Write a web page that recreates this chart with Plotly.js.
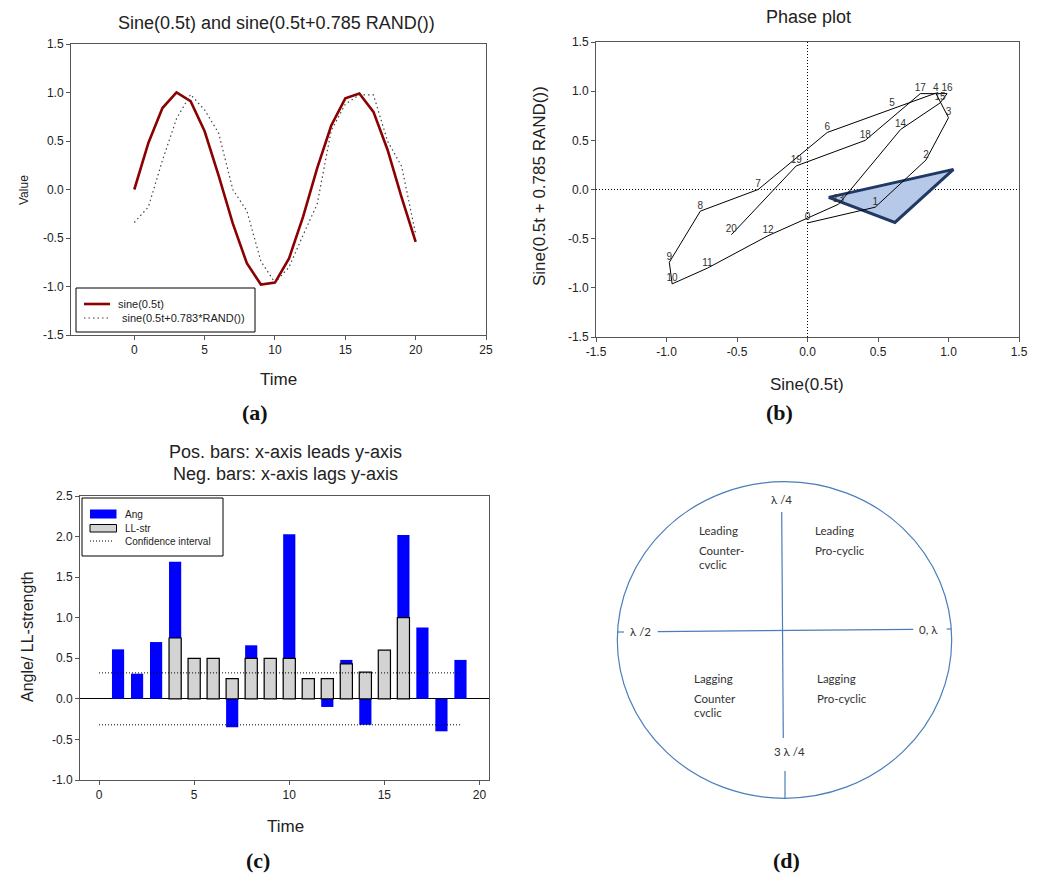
<!DOCTYPE html>
<html>
<head>
<meta charset="utf-8">
<script src="https://cdn.plot.ly/plotly-3.0.1.min.js"></script>
<style>html,body{margin:0;padding:0;background:#fff}#chart{width:1041px;height:879px}</style>
</head>
<body>
<div id="chart"></div>
<script>
// ---------------- DATA ----------------
const timeSteps = [0,1,2,3,4,5,6,7,8,9,10,11,12,13,14,15,16,17,18,19,20];
const sineValues = [0.00,0.48,0.84,1.00,0.91,0.60,0.14,-0.35,-0.76,-0.98,-0.96,-0.71,-0.28,0.22,0.66,0.94,0.99,0.80,0.41,-0.08,-0.54];
const randSineValues = [-0.34,-0.18,0.30,0.73,0.98,0.82,0.58,0.00,-0.22,-0.74,-0.96,-0.80,-0.47,-0.15,0.61,0.88,0.975,0.975,0.50,0.24,-0.46];
const pointLabels = ["0","1","2","3","4","5","6","7","8","9","10","11","12","13","14","15","16","17","18","19","20"];

const triangleX = [0.15, 1.035, 0.62, 0.15];
const triangleY = [-0.08, 0.205, -0.335, -0.08];

const angTime = [1,2,3,4,5,6,7,8,9,10,11,12,13,14,15,16,17,18,19];
const angValues = [0.61,0.31,0.70,1.69,0.50,0.50,-0.35,0.66,0.50,2.03,0.25,-0.10,0.48,-0.32,0.40,2.02,0.88,-0.40,0.48];
const llTime = [4,5,6,7,8,9,10,11,12,13,14,15,16];
const llValues = [0.75,0.50,0.50,0.25,0.50,0.50,0.50,0.25,0.25,0.43,0.33,0.60,1.00];
const ciX = [0,19,null,0,19];
const ciY = [0.32,0.32,null,-0.32,-0.32];

const seriesNamesA = ["sine(0.5t)", " sine(0.5t+0.783*RAND())"];
const seriesNamesC = ["Ang", "LL-str", "Confidence interval"];

const tickA_x = [0,5,10,15,20,25];
const tickA_xText = ["0","5","10","15","20","25"];
const tickPM15 = [-1.5,-1.0,-0.5,0,0.5,1.0,1.5];
const tickPM15Text = ["-1.5","-1.0","-0.5","0.0","0.5","1.0","1.5"];
const tickC_x = [0,5,10,15,20];
const tickC_xText = ["0","5","10","15","20"];
const tickC_y = [-1.0,-0.5,0,0.5,1.0,1.5,2.0,2.5];
const tickC_yText = ["-1.0","-0.5","0.0","0.5","1.0","1.5","2.0","2.5"];

// ---------------- LAYOUT HELPERS ----------------
const W = 1041, H = 879;
const fx = p => p / W;
const fy = p => 1 - p / H;
const FONT = 'Liberation Sans, Arial, sans-serif';

const RED = '#8b0000', BLUE = '#0000ff', GRAY = '#d3d3d3';

function axisStyle(extra) {
  return Object.assign({
    showline: true, linecolor: '#555', linewidth: 1, mirror: true,
    ticks: 'outside', ticklen: 4, tickcolor: '#555', tickwidth: 1,
    showgrid: false, zeroline: false, fixedrange: true,
    tickfont: {family: FONT, size: 12, color: '#222'}
  }, extra);
}

function ann(text, x, y, size, extra) {
  return Object.assign({
    text: text, xref: 'paper', yref: 'paper', x: fx(x), y: fy(y),
    xanchor: 'center', yanchor: 'middle', showarrow: false,
    font: {family: FONT, size: size, color: '#222'}
  }, extra || {});
}
function pline(x0, y0, x1, y1, line) {
  return {type: 'line', xref: 'paper', yref: 'paper', x0: fx(x0), y0: fy(y0), x1: fx(x1), y1: fy(y1), line: line};
}
function prect(x0, y0, x1, y1, fill, line) {
  return {type: 'rect', xref: 'paper', yref: 'paper', x0: fx(x0), y0: fy(y1), x1: fx(x1), y1: fy(y0),
          fillcolor: fill, line: line};
}

const DCOL = '#4a7ebb';
const DFONT = 'Lato, Open Sans, sans-serif';
function dann(text, x, y, anchor) {
  return ann(text, x, y, 11.5, {xanchor: anchor || 'left', font: {family: DFONT, size: 11.5, color: '#333'}});
}
function dline(x0, y0, x1, y1) {
  return pline(x0, y0, x1, y1, {color: DCOL, width: 1.2});
}

// ---------------- TRACES ----------------
const traces = [
  {x: timeSteps, y: sineValues, type: 'scatter', mode: 'lines', name: seriesNamesA[0],
   line: {color: RED, width: 2.6}, xaxis: 'x', yaxis: 'y'},
  {x: timeSteps, y: randSineValues, type: 'scatter', mode: 'lines', name: seriesNamesA[1],
   line: {color: '#444', width: 1.2, dash: '1.5px,3px'}, xaxis: 'x', yaxis: 'y'},

  {x: triangleX, y: triangleY, type: 'scatter', mode: 'lines', fill: 'toself',
   fillcolor: '#b7c9e8', line: {color: '#1f3864', width: 3}, xaxis: 'x2', yaxis: 'y2', hoverinfo: 'skip'},
  {x: sineValues, y: randSineValues, text: pointLabels, type: 'scatter', mode: 'lines+text',
   textposition: 'top center', textfont: {family: FONT, size: 10, color: '#333'},
   line: {color: '#000', width: 1}, xaxis: 'x2', yaxis: 'y2', cliponaxis: false},

  {x: angTime, y: angValues, type: 'bar', name: seriesNamesC[0], width: 0.64,
   marker: {color: BLUE, line: {width: 0}}, xaxis: 'x3', yaxis: 'y3'},
  {x: llTime, y: llValues, type: 'bar', name: seriesNamesC[1], width: 0.64,
   marker: {color: GRAY, line: {color: '#000', width: 1.2}}, xaxis: 'x3', yaxis: 'y3'},
  {x: ciX, y: ciY, type: 'scatter', mode: 'lines', name: seriesNamesC[2],
   line: {color: '#000', width: 1, dash: '1px,2px'}, xaxis: 'x3', yaxis: 'y3', connectgaps: false}
];

// ---------------- LAYOUT ----------------
const serif = {family: 'Liberation Serif, serif', size: 22, color: '#111'};
const layout = {
  width: W, height: H,
  margin: {l: 0, r: 0, t: 0, b: 0},
  paper_bgcolor: '#fff', plot_bgcolor: '#fff',
  font: {family: FONT, color: '#222'},
  showlegend: false,
  barmode: 'overlay',
  xaxis: axisStyle({domain: [fx(71), fx(486)], range: [-4.5, 25], anchor: 'y', tickvals: tickA_x, ticktext: tickA_xText}),
  yaxis: axisStyle({domain: [fy(335), fy(44)], range: [-1.5, 1.5], anchor: 'x', tickvals: tickPM15, ticktext: tickPM15Text}),
  xaxis2: axisStyle({domain: [fx(596), fx(1019)], range: [-1.5, 1.5], anchor: 'y2', tickvals: tickPM15, ticktext: tickPM15Text}),
  yaxis2: axisStyle({domain: [fy(337), fy(42)], range: [-1.5, 1.5], anchor: 'x2', tickvals: tickPM15, ticktext: tickPM15Text}),
  xaxis3: axisStyle({domain: [fx(80), fx(489)], range: [-1, 20.5], anchor: 'y3', tickvals: tickC_x, ticktext: tickC_xText}),
  yaxis3: axisStyle({domain: [fy(780), fy(496)], range: [-1, 2.5], anchor: 'x3', tickvals: tickC_y, ticktext: tickC_yText,
                     zeroline: true, zerolinecolor: '#000', zerolinewidth: 1}),
  shapes: [
    // phase-plot crosshairs
    {type: 'line', xref: 'x2', yref: 'y2 domain', x0: 0, x1: 0, y0: 0, y1: 1, line: {color: '#000', width: 1, dash: '1px,2px'}, layer: 'below'},
    {type: 'line', xref: 'x2 domain', yref: 'y2', x0: 0, x1: 1, y0: 0, y1: 0, line: {color: '#000', width: 1, dash: '1px,2px'}, layer: 'below'},
    // legend (a)
    prect(76, 288, 255, 332, '#fff', {color: '#000', width: 1}),
    pline(84, 304, 110, 304, {color: RED, width: 2.6}),
    pline(84, 318, 110, 318, {color: '#444', width: 1.2, dash: '1.5px,3px'}),
    // legend (c)
    prect(82, 498, 223, 556, '#fff', {color: '#000', width: 1}),
    prect(90, 509.5, 116.5, 518.5, BLUE, {width: 0}),
    prect(90, 524.5, 116.5, 532, GRAY, {color: '#000', width: 1}),
    pline(90, 541, 114, 541, {color: '#000', width: 1, dash: '1px,2px'}),
    // diagram (d)
    {type: 'circle', xref: 'paper', yref: 'paper', x0: fx(617.3), x1: fx(951.7), y0: fy(798.3), y1: fy(481.7),
     line: {color: DCOL, width: 1.2}},
    dline(781.7, 512, 783.3, 738),
    dline(785, 771, 785, 798),
    dline(617.5, 632, 624, 632),
    dline(657.7, 631.7, 913.3, 629.3),
    dline(946.7, 629, 951.5, 629)
  ],
  annotations: [
    ann('Sine(0.5t) and sine(0.5t+0.785 RAND())', 276, 23, 18),
    ann('Value', 24, 190, 12, {textangle: -90}),
    ann('Time', 278, 379, 17),
    ann('Phase plot', 808, 17, 18),
    ann('Sine(0.5t + 0.785 RAND())', 539, 186, 17, {textangle: -90}),
    ann('Sine(0.5t)', 807, 384, 17),
    ann('Pos. bars: x-axis leads y-axis', 285, 452, 18),
    ann('Neg. bars: x-axis lags y-axis', 285, 474, 18),
    ann('Angle/ LL-strength', 27, 637, 16, {textangle: -90}),
    ann('Time', 285, 826, 17),
    // legend texts
    ann(seriesNamesA[0], 116, 304, 11, {xanchor: 'left'}),
    ann(seriesNamesA[1], 117, 318, 11, {xanchor: 'left'}),
    ann(seriesNamesC[0], 123, 514, 10, {xanchor: 'left'}),
    ann(seriesNamesC[1], 123, 528, 10, {xanchor: 'left'}),
    ann(seriesNamesC[2], 123, 541, 10, {xanchor: 'left'}),
    // panel letters
    ann('<b>(a)</b>', 255, 412, 22, {font: serif}),
    ann('<b>(b)</b>', 779, 412, 22, {font: serif}),
    ann('<b>(c)</b>', 258, 860, 22, {font: serif}),
    ann('<b>(d)</b>', 786, 860, 22, {font: serif}),
    // diagram text
    dann('λ /4', 781, 499, 'center'),
    dann('λ /2', 640, 631, 'center'),
    dann('0, λ', 928, 629, 'center'),
    dann('3 λ /4', 789, 751, 'center'),
    dann('Leading', 696.7, 530),
    dann('Counter-', 696.7, 550),
    dann('cvclic', 696.7, 564),
    dann('Leading', 812.7, 530),
    dann('Pro-cyclic', 812.7, 550),
    dann('Lagging', 691.7, 678),
    dann('Counter', 691.7, 698),
    dann('cvclic', 691.7, 712),
    dann('Lagging', 815, 678),
    dann('Pro-cyclic', 815, 698)
  ]
};

Plotly.newPlot('chart', traces, layout, {displayModeBar: false, staticPlot: true});
</script>
</body>
</html>
